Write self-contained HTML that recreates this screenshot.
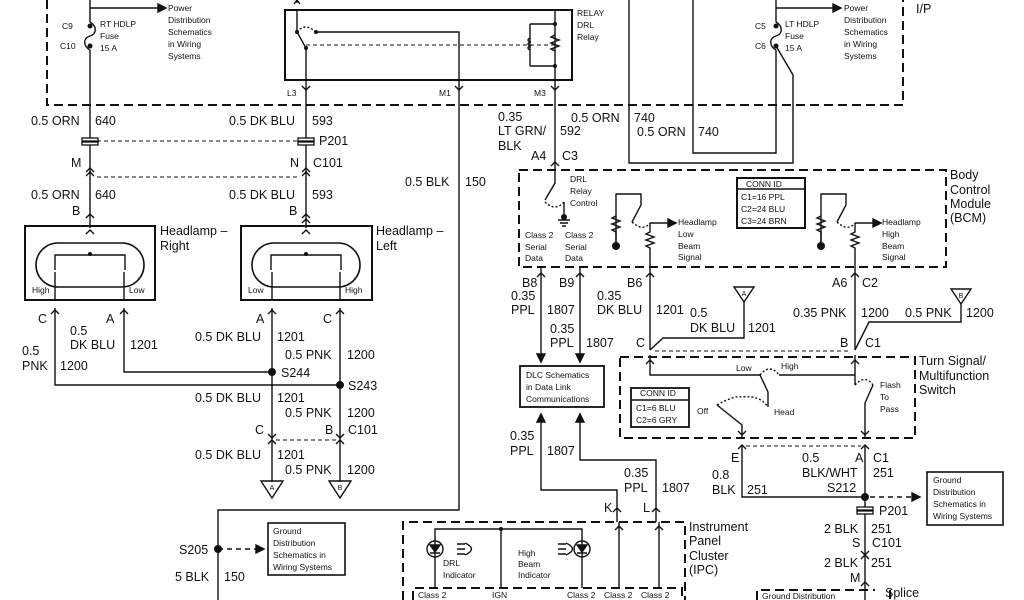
<!DOCTYPE html>
<html><head><meta charset="utf-8"><style>
html,body{margin:0;padding:0;background:#fff;}
svg{display:block;}
text{font-family:"Liberation Sans",Arial,sans-serif;fill:#111;}
.w{font-size:12.5px;}
.s{font-size:8.5px;}
.m{font-size:12px;}
</style></head><body>
<svg width="1024" height="600" viewBox="0 0 1024 600" xmlns="http://www.w3.org/2000/svg">
<g stroke="#111" fill="none" stroke-width="1.4">
<path d="M47,0 V105 H903 V0" stroke-dasharray="9,5" stroke-width="2"/>
<path d="M90,0 V22 M90,50 V228"/>
<path d="M90,22 C97,26 97,34 90,36 C83,38 83,46 90,50"/>
<path d="M90,8 H160"/><path d="M158,4 L166,8 L158,12 Z" fill="#111"/>
<rect x="285" y="10" width="287" height="70" stroke-width="2"/>
<path d="M297,0 V3 M294,4 L297,0 L300,4"/>
<path d="M297,10 V32 L306,48 V80"/>
<path d="M316,32 H459 V80"/>
<path d="M297,32 Q305,22 316,32" stroke-dasharray="2,2"/>
<path d="M306,45 H555" stroke-dasharray="4,3" stroke-width="1"/>
<path d="M555,10 V80 M530,24 H555 M530,66 H555 M530,24 V66"/>
<path d="M555,35 l-4,2 l8,3 l-8,3 l8,3 l-8,3 l4,2" fill="none"/>
<path d="M530,38 q-4,2 0,4 q-4,2 0,4 q-4,2 0,4"/>
<path d="M306,80 V228"/>
<path d="M302,86 L306,90 L310,86 M302,223 L306,219 L310,223"/>
<path d="M459,80 V510 H218 V600"/>
<path d="M455,86 L459,90 L463,86"/>
<path d="M555,80 V172"/>
<path d="M551,86 L555,90 L559,86 M551,166 L555,162 L559,166"/>
<path d="M629,0 V163 H793 V75 L776,46"/>
<path d="M693,0 V153 H776 V50"/>
<path d="M776,0 V22"/>
<path d="M776,22 C783,26 783,34 776,36 C769,38 769,46 776,50"/>
<path d="M776,8 H835"/><path d="M833,4 L841,8 L833,12 Z" fill="#111"/>
<path d="M97,141 H300" stroke-dasharray="4,3" stroke-width="1"/>
<path d="M97,177 H300" stroke-dasharray="4,3" stroke-width="1"/>
<path d="M86,172 L90,168 L94,172 M86,176 L90,172 L94,176 M302,172 L306,168 L310,172 M302,176 L306,172 L310,176"/>
<path d="M86,218 L90,214 L94,218 M302,218 L306,214 L310,218"/>
<rect x="25" y="226" width="130" height="74" stroke-width="2"/>
<rect x="241" y="226" width="131" height="74" stroke-width="2"/>
<path d="M58,243 H122 A22,22 0 0 1 122,287 H58 A22,22 0 0 1 58,243 Z" stroke-width="1.6"/>
<path d="M55,270 V255 H125 V270"/>
<path d="M274,243 H338 A22,22 0 0 1 338,287 H274 A22,22 0 0 1 274,243 Z" stroke-width="1.6"/>
<path d="M271,270 V255 H341 V270"/>
<path d="M55,272 V300 M124,272 V300 M272,272 V300 M340,272 V300"/>
<path d="M86,234 L90,230 L94,234 M302,234 L306,230 L310,234"/>
<path d="M55,308 V385 H340"/>
<path d="M124,308 V372 H272"/>
<path d="M272,308 V482 M340,308 V482"/>
<path d="M51,314 L55,310 L59,314 M120,314 L124,310 L128,314 M268,314 L272,310 L276,314 M336,314 L340,310 L344,314"/>
<path d="M268,434 L272,438 L276,434 M336,434 L340,438 L344,434 M268,444 L272,440 L276,444 M336,444 L340,440 L344,444"/>
<path d="M276,440 H336" stroke-dasharray="4,3" stroke-width="1"/>
<path d="M261,481 H283 L272,498 Z M329,481 H351 L340,498 Z"/>
<path d="M218,549 H258" stroke-dasharray="5,4"/>
<path d="M256,545 L264,549 L256,553 Z" fill="#111"/>
<rect x="268" y="523" width="77" height="52" stroke-width="1.6"/>
<rect x="519" y="170" width="427" height="97" stroke-dasharray="9,5" stroke-width="2"/>
<rect x="737" y="178" width="68" height="50" stroke-width="2"/>
<path d="M737,189 H805"/>
<path d="M555,172 V183 L545,200"/>
<path d="M564,202 V217"/>
<path d="M545,202 Q555,212 564,202" stroke-dasharray="2,2"/>
<path d="M558,220 H570 M560,223 H568 M562,226 H566"/>
<path d="M616,246 V194 H641 V205 L632,222"/>
<path d="M616,216 l-4,2 l8,3 l-8,3 l8,3 l-8,3 l4,2 V246"/>
<path d="M632,222 Q643,232 650,223" stroke-dasharray="2,2"/>
<path d="M650,223 H670 M650,223 V232 l-4,2 l8,3 l-8,3 l8,3 l-8,3 l4,2 V267"/>
<path d="M668,219 L676,223 L668,227 Z" fill="#111"/>
<path d="M821,246 V194 H846 V205 L837,222"/>
<path d="M821,216 l-4,2 l8,3 l-8,3 l8,3 l-8,3 l4,2 V246"/>
<path d="M837,222 Q848,232 855,223" stroke-dasharray="2,2"/>
<path d="M855,223 H875 M855,223 V232 l-4,2 l8,3 l-8,3 l8,3 l-8,3 l4,2 V267"/>
<path d="M873,219 L881,223 L873,227 Z" fill="#111"/>
<path d="M541,267 V360 M580,267 V360 M650,267 V350 M855,267 V350"/>
<path d="M537,277 L541,273 L545,277 M576,277 L580,273 L584,277 M646,277 L650,273 L654,277 M851,277 L855,273 L859,277"/>
<path d="M537,354 L541,362 L545,354 Z M576,354 L580,362 L584,354 Z" fill="#111"/>
<path d="M734,287 H754 L744,302 Z M951,289 H971 L961,304 Z"/>
<path d="M744,302 V338 H663 L650,350"/>
<path d="M961,304 V322 H869 L855,350"/>
<path d="M655,351 H851" stroke-dasharray="4,3" stroke-width="1"/>
<rect x="520" y="366" width="84" height="41" stroke-width="1.8"/>
<rect x="620" y="357" width="295" height="81" stroke-dasharray="9,5" stroke-width="2"/>
<rect x="631" y="388" width="58" height="39" stroke-width="1.8"/>
<path d="M631,400 H689"/>
<path d="M650,355 V375 H760 M779,375 H855 V355 M855,375 V385"/>
<path d="M760,375 L768,392 V407"/>
<path d="M760,375 Q770,363 779,375" stroke-dasharray="2,2"/>
<path d="M717,405 Q735,395 742,397 Q760,395 768,407" stroke-dasharray="2,2"/>
<path d="M717,405 L742,425 V438"/>
<path d="M855,385 Q865,374 873,385" stroke-dasharray="2,2"/>
<path d="M873,385 L865,403 V438"/>
<path d="M646,364 L650,360 L654,364 M851,364 L855,360 L859,364 M738,431 L742,435 L746,431 M861,431 L865,435 L869,431"/>
<path d="M742,446 V497 H865 M865,446 V600"/>
<path d="M738,449 L742,445 L746,449 M861,449 L865,445 L869,449"/>
<path d="M746,446 H861" stroke-dasharray="4,3" stroke-width="1"/>
<path d="M870,497 H912" stroke-dasharray="5,4"/>
<path d="M912,493 L920,497 L912,501 Z" fill="#111"/>
<rect x="927" y="472" width="76" height="53" stroke-width="1.6"/>
<path d="M861,551 L865,555 L869,551 M861,559 L865,555 L869,559 M861,586 L865,582 L869,586"/>
<path d="M541,415 V490 H617 V522 M580,415 V460 H656 V522"/>
<path d="M537,422 L541,414 L545,422 Z M576,422 L580,414 L584,422 Z" fill="#111"/>
<path d="M613,512 L617,508 L621,512 M652,512 L656,508 L660,512"/>
<path d="M403,600 V522 H685 V600" stroke-dasharray="9,5" stroke-width="2"/>
<path d="M413,600 V588 H682 V600" stroke-dasharray="9,5" stroke-width="2"/>
<path d="M435,588 V529 H582 V588 M501,529 V588 M619,588 V522 M659,588 V522"/>
<path d="M615,530 L619,526 L623,530 M655,530 L659,526 L663,530"/>
<circle cx="435" cy="549" r="8"/><circle cx="582" cy="549" r="8"/>
<path d="M430,545 H440 L435,552 Z M577,545 H587 L582,552 Z" fill="#111"/>
<path d="M430,553 H440 M577,553 H587"/>
<path d="M457,544 H465 M457,549 H465 M457,554 H465 M465,543 Q478,549 465,555 M558,544 H566 M558,549 H566 M558,554 H566 M566,543 Q579,549 566,555"/>
<path d="M757,600 V590 H875 M890,590 V600" stroke-dasharray="9,5" stroke-width="2"/>
</g>
<g fill="#111">
<circle cx="90" cy="26" r="2.5"/><circle cx="90" cy="46" r="2.5"/>
<circle cx="776" cy="26" r="2.5"/><circle cx="776" cy="46" r="2.5"/>
<circle cx="272" cy="372" r="4"/><circle cx="340" cy="385" r="4"/>
<circle cx="218" cy="549" r="4"/><circle cx="865" cy="497" r="4"/>
<circle cx="90" cy="254" r="2"/><circle cx="306" cy="254" r="2"/>
<circle cx="501" cy="529" r="2"/>
<circle cx="564" cy="217" r="3"/><circle cx="616" cy="246" r="4"/><circle cx="821" cy="246" r="4"/>
<circle cx="297" cy="32" r="2"/><circle cx="316" cy="32" r="2"/><circle cx="306" cy="48" r="2"/>
<circle cx="555" cy="24" r="2"/><circle cx="555" cy="66" r="2"/>
</g>
<g fill="#fff" stroke="#111" stroke-width="1.3">
<rect x="82" y="138" width="16" height="3"/><rect x="82" y="142" width="16" height="3"/>
<rect x="298" y="138" width="16" height="3"/><rect x="298" y="142" width="16" height="3"/>
<rect x="857" y="507" width="16" height="3"/><rect x="857" y="511" width="16" height="3"/>
</g>
<g class="s">
<text x="62" y="29">C9</text><text x="60" y="49">C10</text>
<text x="100" y="27">RT HDLP</text><text x="100" y="39">Fuse</text><text x="100" y="51">15 A</text>
<text x="168" y="11">Power</text><text x="168" y="23">Distribution</text><text x="168" y="35">Schematics</text><text x="168" y="47">in Wiring</text><text x="168" y="59">Systems</text>
<text x="287" y="96">L3</text><text x="439" y="96">M1</text><text x="534" y="96">M3</text>
<text x="577" y="16">RELAY</text><text x="577" y="28">DRL</text><text x="577" y="40">Relay</text>
<text x="755" y="29">C5</text><text x="755" y="49">C6</text>
<text x="785" y="27">LT HDLP</text><text x="785" y="39">Fuse</text><text x="785" y="51">15 A</text>
<text x="844" y="11">Power</text><text x="844" y="23">Distribution</text><text x="844" y="35">Schematics</text><text x="844" y="47">in Wiring</text><text x="844" y="59">Systems</text>
<text x="32" y="293">High</text><text x="129" y="293">Low</text><text x="248" y="293">Low</text><text x="345" y="293">High</text>
<text x="570" y="182">DRL</text><text x="570" y="194">Relay</text><text x="570" y="206">Control</text>
<text x="525" y="238">Class 2</text><text x="525" y="250">Serial</text><text x="525" y="261">Data</text>
<text x="565" y="238">Class 2</text><text x="565" y="250">Serial</text><text x="565" y="261">Data</text>
<text x="678" y="225">Headlamp</text><text x="678" y="237">Low</text><text x="678" y="249">Beam</text><text x="678" y="260">Signal</text>
<text x="882" y="225">Headlamp</text><text x="882" y="237">High</text><text x="882" y="249">Beam</text><text x="882" y="260">Signal</text>
<text x="746" y="187">CONN ID</text><text x="741" y="200">C1=16 PPL</text><text x="741" y="212">C2=24 BLU</text><text x="741" y="224">C3=24 BRN</text>
<text x="526" y="378">DLC Schematics</text><text x="526" y="390">in Data Link</text><text x="526" y="402">Communications</text>
<text x="640" y="396">CONN ID</text><text x="636" y="411">C1=6 BLU</text><text x="636" y="423">C2=6 GRY</text>
<text x="736" y="371">Low</text><text x="781" y="369">High</text><text x="697" y="414">Off</text><text x="774" y="415">Head</text>
<text x="880" y="388">Flash</text><text x="880" y="400">To</text><text x="880" y="412">Pass</text>
<text x="273" y="534">Ground</text><text x="273" y="546">Distribution</text><text x="273" y="558">Schematics in</text><text x="273" y="570">Wiring Systems</text>
<text x="933" y="483">Ground</text><text x="933" y="495">Distribution</text><text x="933" y="507">Schematics in</text><text x="933" y="519">Wiring Systems</text>
<text x="443" y="566">DRL</text><text x="443" y="578">Indicator</text>
<text x="518" y="556">High</text><text x="518" y="567">Beam</text><text x="518" y="578">Indicator</text>
<text x="418" y="598">Class 2</text><text x="492" y="598">IGN</text><text x="567" y="598">Class 2</text><text x="604" y="598">Class 2</text><text x="641" y="598">Class 2</text>
<text x="762" y="599">Ground Distribution</text>
</g>
<g class="w">
<text x="31" y="125">0.5 ORN</text><text x="95" y="125">640</text>
<text x="229" y="125">0.5 DK BLU</text><text x="312" y="125">593</text>
<text x="319" y="145">P201</text>
<text x="71" y="167">M</text><text x="290" y="167">N</text><text x="313" y="167">C101</text>
<text x="31" y="199">0.5 ORN</text><text x="95" y="199">640</text>
<text x="229" y="199">0.5 DK BLU</text><text x="312" y="199">593</text>
<text x="72" y="215">B</text><text x="289" y="215">B</text>
<text x="405" y="186">0.5 BLK</text><text x="465" y="186">150</text>
<text x="498" y="121">0.35</text><text x="498" y="135">LT GRN/</text><text x="498" y="150">BLK</text><text x="560" y="135">592</text>
<text x="571" y="122">0.5 ORN</text><text x="634" y="122">740</text>
<text x="637" y="136">0.5 ORN</text><text x="698" y="136">740</text>
<text x="531" y="160">A4</text><text x="562" y="160">C3</text>
<text x="160" y="235">Headlamp –</text><text x="160" y="250">Right</text>
<text x="376" y="235">Headlamp –</text><text x="376" y="250">Left</text>
<text x="38" y="323">C</text><text x="106" y="323">A</text><text x="256" y="323">A</text><text x="323" y="323">C</text>
<text x="70" y="335">0.5</text><text x="70" y="349">DK BLU</text><text x="130" y="349">1201</text>
<text x="22" y="355">0.5</text><text x="22" y="370">PNK</text><text x="60" y="370">1200</text>
<text x="195" y="341">0.5 DK BLU</text><text x="277" y="341">1201</text>
<text x="285" y="359">0.5 PNK</text><text x="347" y="359">1200</text>
<text x="281" y="377">S244</text><text x="348" y="390">S243</text>
<text x="195" y="402">0.5 DK BLU</text><text x="277" y="402">1201</text>
<text x="285" y="417">0.5 PNK</text><text x="347" y="417">1200</text>
<text x="255" y="434">C</text><text x="325" y="434">B</text><text x="348" y="434">C101</text>
<text x="195" y="459">0.5 DK BLU</text><text x="277" y="459">1201</text>
<text x="285" y="474">0.5 PNK</text><text x="347" y="474">1200</text>
<text x="179" y="554">S205</text><text x="175" y="581">5 BLK</text><text x="224" y="581">150</text>
<text x="950" y="179">Body</text><text x="950" y="194">Control</text><text x="950" y="208">Module</text><text x="950" y="222">(BCM)</text>
<text x="916" y="13">I/P</text>
<text x="522" y="287">B8</text><text x="559" y="287">B9</text><text x="627" y="287">B6</text><text x="832" y="287">A6</text><text x="862" y="287">C2</text>
<text x="511" y="300">0.35</text><text x="511" y="314">PPL</text><text x="547" y="314">1807</text>
<text x="550" y="333">0.35</text><text x="550" y="347">PPL</text><text x="586" y="347">1807</text>
<text x="597" y="300">0.35</text><text x="597" y="314">DK BLU</text><text x="656" y="314">1201</text>
<text x="690" y="317">0.5</text><text x="690" y="332">DK BLU</text><text x="748" y="332">1201</text>
<text x="793" y="317">0.35 PNK</text><text x="861" y="317">1200</text>
<text x="905" y="317">0.5 PNK</text><text x="966" y="317">1200</text>
<text x="636" y="347">C</text><text x="840" y="347">B</text><text x="865" y="347">C1</text>
<text x="919" y="365">Turn Signal/</text><text x="919" y="380">Multifunction</text><text x="919" y="394">Switch</text>
<text x="510" y="440">0.35</text><text x="510" y="455">PPL</text><text x="547" y="455">1807</text>
<text x="624" y="477">0.35</text><text x="624" y="492">PPL</text><text x="662" y="492">1807</text>
<text x="604" y="512">K</text><text x="643" y="512">L</text>
<text x="731" y="462">E</text><text x="855" y="462">A</text><text x="873" y="462">C1</text>
<text x="712" y="479">0.8</text><text x="712" y="494">BLK</text><text x="747" y="494">251</text>
<text x="802" y="462">0.5</text><text x="802" y="477">BLK/WHT</text><text x="873" y="477">251</text>
<text x="827" y="492">S212</text><text x="879" y="515">P201</text>
<text x="824" y="533">2 BLK</text><text x="871" y="533">251</text>
<text x="852" y="547">S</text><text x="872" y="547">C101</text>
<text x="824" y="567">2 BLK</text><text x="871" y="567">251</text>
<text x="850" y="582">M</text><text x="885" y="597">Splice</text>
<text x="689" y="531">Instrument</text><text x="689" y="545">Panel</text><text x="689" y="560">Cluster</text><text x="689" y="574">(IPC)</text>
</g>
<g class="s" text-anchor="middle"><text x="744" y="296" font-size="7">A</text><text x="961" y="298" font-size="7">B</text><text x="272" y="490" font-size="7">A</text><text x="340" y="490" font-size="7">B</text></g>
</svg>
</body></html>
